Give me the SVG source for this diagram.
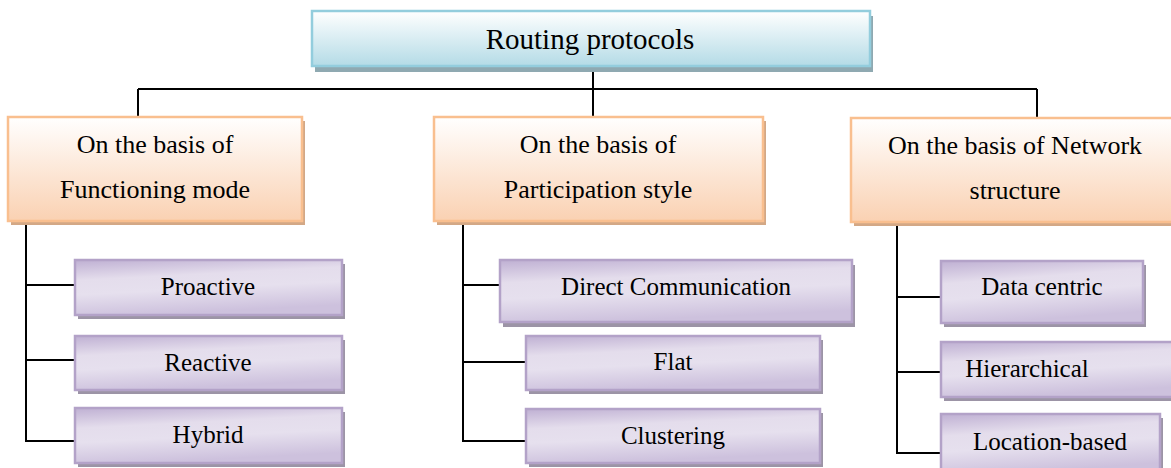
<svg xmlns="http://www.w3.org/2000/svg" width="1171" height="468" viewBox="0 0 1171 468">
  <defs>
    <linearGradient id="gBlue" x1="0" y1="0" x2="0" y2="1">
      <stop offset="0" stop-color="#FFFFFF"/>
      <stop offset="1" stop-color="#B4DBE6"/>
    </linearGradient>
    <linearGradient id="gOrange" x1="0" y1="0" x2="0" y2="1">
      <stop offset="0" stop-color="#FFFFFF"/>
      <stop offset="1" stop-color="#FAD1B2"/>
    </linearGradient>
    <linearGradient id="gPurple" x1="0" y1="0" x2="0.25" y2="1">
      <stop offset="0" stop-color="#BFB0D3"/>
      <stop offset="0.35" stop-color="#E4DDEC"/>
      <stop offset="0.6" stop-color="#E6E0EE"/>
      <stop offset="1" stop-color="#CDC1DD"/>
    </linearGradient>
  </defs>
  <style>
    text { font-family: "Liberation Serif", "Times New Roman", serif; fill: #000; text-anchor: middle; }
    .title { font-size: 29px; }
    .cat { font-size: 26px; }
    .sub { font-size: 25px; }
    .blue { fill: url(#gBlue); stroke: #93CDDD; stroke-width: 2.5; }
    .blueSh { fill: #8FA9B1; }
    .orange { fill: url(#gOrange); stroke: #F9BF8F; stroke-width: 2.5; }
    .orangeSh { fill: #D3A886; }
    .purple { fill: url(#gPurple); stroke: #B3A2C8; stroke-width: 2.5; }
    .purpleSh { fill: #9C94A6; }
    .conn { fill: none; stroke: #000; stroke-width: 2; }
  </style>

  <rect width="1171" height="468" fill="#FFFFFF"/>

  <!-- connectors -->
  <g id="connectors">
    <path class="conn" d="M593 66 V117"/>
    <path class="conn" d="M138 89 H1037"/>
    <path class="conn" d="M138 89 V117"/>
    <path class="conn" d="M1037 89 V118"/>
    <!-- left branch -->
    <path class="conn" d="M26 222 V441 H75"/>
    <path class="conn" d="M26 285 H75"/>
    <path class="conn" d="M26 360 H75"/>
    <!-- middle branch -->
    <path class="conn" d="M463 222 V441 H526"/>
    <path class="conn" d="M463 285 H500"/>
    <path class="conn" d="M463 362 H526"/>
    <!-- right branch -->
    <path class="conn" d="M897 223 V453 H941"/>
    <path class="conn" d="M897 297 H941"/>
    <path class="conn" d="M897 372 H941"/>
  </g>

  <!-- root -->
  <g id="root">
    <rect class="blueSh" x="315" y="16" width="558" height="56"/>
    <rect class="blue" x="312" y="11" width="558" height="55"/>
    <text class="title" x="590" y="49">Routing protocols</text>
  </g>

  <!-- categories -->
  <g id="cat-functioning">
    <rect class="orangeSh" x="11" y="121" width="294" height="104"/>
    <rect class="orange" x="8" y="117" width="294" height="104"/>
    <text class="cat" x="155" y="153">On the basis of</text>
    <text class="cat" x="155" y="198">Functioning mode</text>
  </g>
  <g id="cat-participation">
    <rect class="orangeSh" x="437" y="121" width="329" height="104"/>
    <rect class="orange" x="434" y="117" width="329" height="104"/>
    <text class="cat" x="598" y="153">On the basis of</text>
    <text class="cat" x="598" y="198">Participation style</text>
  </g>
  <g id="cat-network">
    <rect class="orangeSh" x="854" y="122" width="330" height="104"/>
    <rect class="orange" x="851" y="118" width="330" height="104"/>
    <text class="cat" x="1015" y="154">On the basis of Network</text>
    <text class="cat" x="1015" y="199">structure</text>
  </g>

  <!-- functioning mode -->
  <g id="proactive">
    <rect class="purpleSh" x="78" y="264" width="267" height="55"/>
    <rect class="purple" x="75" y="260" width="267" height="55"/>
    <text class="sub" x="208" y="295">Proactive</text>
  </g>
  <g id="reactive">
    <rect class="purpleSh" x="78" y="340" width="267" height="54"/>
    <rect class="purple" x="75" y="336" width="267" height="54"/>
    <text class="sub" x="208" y="371">Reactive</text>
  </g>
  <g id="hybrid">
    <rect class="purpleSh" x="78" y="412" width="267" height="55"/>
    <rect class="purple" x="75" y="408" width="267" height="55"/>
    <text class="sub" x="208" y="443">Hybrid</text>
  </g>

  <!-- participation style -->
  <g id="direct">
    <rect class="purpleSh" x="503" y="265" width="352" height="62"/>
    <rect class="purple" x="500" y="260" width="352" height="62"/>
    <text class="sub" x="676" y="295">Direct Communication</text>
  </g>
  <g id="flat">
    <rect class="purpleSh" x="529" y="340" width="294" height="54"/>
    <rect class="purple" x="526" y="336" width="294" height="54"/>
    <text class="sub" x="673" y="370">Flat</text>
  </g>
  <g id="clustering">
    <rect class="purpleSh" x="529" y="413" width="294" height="54"/>
    <rect class="purple" x="526" y="409" width="294" height="54"/>
    <text class="sub" x="673" y="444">Clustering</text>
  </g>

  <!-- network structure -->
  <g id="data-centric">
    <rect class="purpleSh" x="944" y="265" width="202" height="62"/>
    <rect class="purple" x="941" y="261" width="202" height="62"/>
    <text class="sub" x="1042" y="295">Data centric</text>
  </g>
  <g id="hierarchical">
    <rect class="purpleSh" x="944" y="346" width="240" height="55"/>
    <rect class="purple" x="941" y="342" width="240" height="55"/>
    <text class="sub" x="1027" y="377">Hierarchical</text>
  </g>
  <g id="location-based">
    <rect class="purpleSh" x="944" y="418" width="219" height="60"/>
    <rect class="purple" x="941" y="414" width="219" height="60"/>
    <text class="sub" x="1050" y="450">Location-based</text>
  </g>
</svg>
